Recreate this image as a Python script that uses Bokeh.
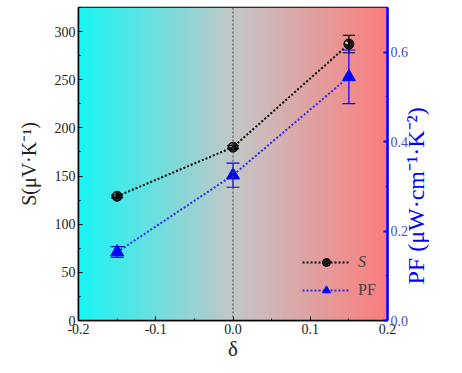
import math
import numpy as np
from bokeh.plotting import figure
from bokeh.models import (Range1d, LinearAxis, ColumnDataSource, Whisker, TeeHead,
                          Legend, LegendItem, Span, SingleIntervalTicker,
                          CustomJSTickFormatter)
from bokeh.embed import file_html
from bokeh.resources import INLINE

# ---- data ----
delta = [-0.15, 0.0, 0.15]
S_vals = [129, 180, 287]
S_err = [1.5, 1.5, 9]
PF_vals = [0.153, 0.325, 0.545]
PF_err = [0.012, 0.027, 0.060]

x_range = (-0.2, 0.2)
y_left = (0, 325)
y_right = (0, 0.70)

BLUE = "#0000FF"
FONT = "Liberation Serif"

p = figure(width=446, height=365, output_backend="svg", toolbar_location=None,
           x_range=Range1d(*x_range), y_range=Range1d(*y_left),
           min_border_left=78, min_border_right=59, min_border_top=7, min_border_bottom=45)
p.extra_y_ranges = {"pf": Range1d(*y_right)}
p.xgrid.visible = False
p.ygrid.visible = False
p.outline_line_color = "black"
p.outline_line_width = 1.5
p.background_fill_color = "white"
p.border_fill_color = "white"

# ---- gradient background ----
N = 200
t = np.linspace(0, 1, N)
stops_t = [0.0, 0.5, 1.0]
stops_c = [(25, 245, 245), (195, 200, 200), (253, 125, 125)]
rgb = np.zeros((1, N, 4), dtype=np.uint8)
for k in range(3):
    rgb[0, :, k] = np.interp(t, stops_t, [c[k] for c in stops_c]).astype(np.uint8)
rgb[0, :, 3] = 255
img = rgb.view(dtype=np.uint32).reshape((1, N))
p.image_rgba(image=[img], x=x_range[0], y=y_left[0],
             dw=x_range[1] - x_range[0], dh=y_left[1] - y_left[0])

# vertical dotted line at 0
p.add_layout(Span(location=0, dimension="height", line_color="#555555",
                  line_dash="2 2", line_width=1.2))

# ---- S series ----
src_s = ColumnDataSource(dict(x=delta, y=S_vals,
                              lo=[v - e for v, e in zip(S_vals, S_err)],
                              hi=[v + e for v, e in zip(S_vals, S_err)]))
ls = p.line("x", "y", source=src_s, line_color="black", line_dash="2 2", line_width=2)
p.add_layout(Whisker(source=src_s, base="x", lower="lo", upper="hi", level="glyph",
                     line_color="black", line_width=1.2,
                     upper_head=TeeHead(size=12, line_color="black", line_width=1.2),
                     lower_head=TeeHead(size=12, line_color="black", line_width=1.2)))

# ---- PF series ----
src_p = ColumnDataSource(dict(x=delta, y=PF_vals,
                              lo=[v - e for v, e in zip(PF_vals, PF_err)],
                              hi=[v + e for v, e in zip(PF_vals, PF_err)]))
lp = p.line("x", "y", source=src_p, y_range_name="pf", line_color="#2a2aee",
            line_dash="2 2", line_width=2)
p.add_layout(Whisker(source=src_p, base="x", lower="lo", upper="hi", y_range_name="pf",
                     level="glyph", line_color=BLUE, line_width=1.2,
                     upper_head=TeeHead(size=13, line_color=BLUE, line_width=1.2),
                     lower_head=TeeHead(size=13, line_color=BLUE, line_width=1.2)))

ms = p.scatter("x", "y", source=src_s, marker="circle", size=10,
               fill_color="#1a1a1a", line_color="black")
hs = p.scatter([d - 0.003 for d in delta], [v + 1.5 for v in S_vals], marker="circle",
               size=3, fill_color="#bbbbbb", line_color=None)
mp = p.scatter("x", "y", source=src_p, y_range_name="pf", marker="triangle", size=13,
               fill_color=BLUE, line_color=BLUE)

# ---- axes ----
xa = p.xaxis[0]
xa.ticker = SingleIntervalTicker(interval=0.1, num_minor_ticks=2)
xa.formatter = CustomJSTickFormatter(code="return tick.toFixed(1)")
xa.axis_label = "δ"
ya = p.yaxis[0]
ya.ticker = SingleIntervalTicker(interval=50, num_minor_ticks=2)
ya.axis_label = "S(μV·K⁻¹)"

ra = LinearAxis(y_range_name="pf", axis_label="\u2003\u2002PF (μW·cm⁻¹·K⁻²)",
                ticker=SingleIntervalTicker(interval=0.2, num_minor_ticks=2))
ra.formatter = CustomJSTickFormatter(code="return tick.toFixed(1)")
p.add_layout(ra, "right")

for ax in (xa, ya, ra):
    ax.major_tick_in = 4
    ax.major_tick_out = 0
    ax.minor_tick_in = 2
    ax.minor_tick_out = 0
    ax.major_label_text_font = FONT
    ax.major_label_text_font_size = "14px"
    ax.axis_label_text_font = FONT
    ax.axis_label_text_font_style = "normal"
    ax.axis_line_width = 1.5
    ax.major_label_standoff = 3

xa.axis_label_text_font_size = "21px"
xa.axis_label_standoff = 0
ya.axis_label_text_font_size = "20px"
ya.axis_label_standoff = 12
for ax in (xa, ya):
    ax.axis_line_color = "black"
    ax.major_tick_line_color = "black"
    ax.minor_tick_line_color = "black"
    ax.major_label_text_color = "#222222"
    ax.axis_label_text_color = "#222222"

ra.axis_line_color = BLUE
ra.axis_line_width = 2.5
ra.major_tick_line_color = BLUE
ra.minor_tick_line_color = BLUE
ra.major_tick_line_width = 2
ra.major_label_text_color = "#4a4acc"
ra.axis_label_text_color = BLUE
ra.axis_label_text_font_size = "24px"
ra.axis_label_standoff = 5
ra.axis_label_orientation = math.pi / 2
ra.axis_label_align = "start"

# ---- legends ----
leg_s = Legend(items=[LegendItem(label="S", renderers=[ls, ms])],
               location=(224, 48), border_line_color=None, background_fill_alpha=0,
               label_text_font=FONT, label_text_font_style="italic",
               label_text_font_size="16px", glyph_width=48, padding=0, margin=0,
               label_standoff=8)
leg_p = Legend(items=[LegendItem(label="PF", renderers=[lp, mp])],
               location=(224, 20), border_line_color=None, background_fill_alpha=0,
               label_text_font=FONT, label_text_font_size="16px",
               glyph_width=48, padding=0, margin=0, label_standoff=8)
p.add_layout(leg_s)
p.add_layout(leg_p)

open("out.html", "w").write(file_html(p, INLINE))
